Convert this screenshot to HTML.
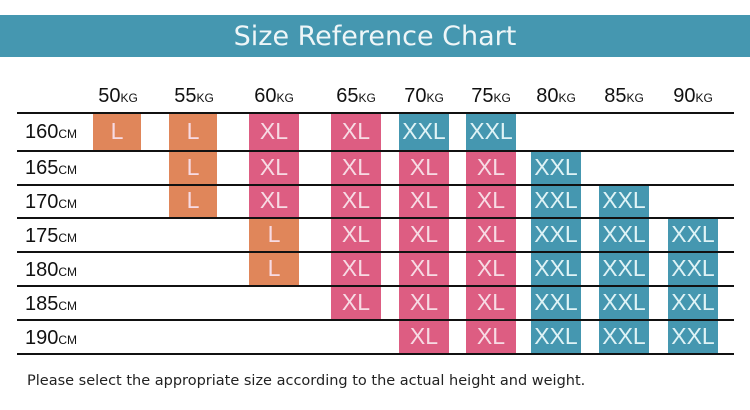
<!DOCTYPE html>
<html><head><meta charset="utf-8"><style>
body{margin:0;width:750px;height:410px;background:#fff;position:relative;overflow:hidden;font-family:"Liberation Sans",sans-serif}
.ban{position:absolute;left:0;top:15px;width:750px;height:42px;background:#4597b0;color:#eef6f8;font-size:27px;text-align:center;line-height:44px;font-family:"DejaVu Sans","Liberation Sans",sans-serif}
.h{position:absolute;top:85px;font-size:20px;color:#111;width:70px;text-align:center}
.h small,.r small{font-size:12px}
.r{position:absolute;left:25px;font-size:20px;color:#111}
.ln{position:absolute;left:17px;width:717px;height:1.5px;background:#111}
.b{position:absolute;width:50px;color:#f7dbe4;font-size:23px;text-align:center}
.o{background:#e0865a}.p{background:#dd5d82}.t{background:#4597b0;color:#dff3f6}
.foot{position:absolute;left:27px;top:373px;font-size:14.5px;color:#222;font-family:"DejaVu Sans",sans-serif;letter-spacing:0px}
</style></head><body>
<div class="ban">Size Reference Chart</div>
<div class="h" style="left:83px">50<small>KG</small></div>
<div class="h" style="left:159px">55<small>KG</small></div>
<div class="h" style="left:239px">60<small>KG</small></div>
<div class="h" style="left:321px">65<small>KG</small></div>
<div class="h" style="left:389px">70<small>KG</small></div>
<div class="h" style="left:456px">75<small>KG</small></div>
<div class="h" style="left:521px">80<small>KG</small></div>
<div class="h" style="left:589px">85<small>KG</small></div>
<div class="h" style="left:658px">90<small>KG</small></div>

<div class="b o" style="left:93px;top:113px;height:37px;line-height:37px;width:48px">L</div>
<div class="b o" style="left:169px;top:113px;height:37px;line-height:37px;width:48px">L</div>
<div class="b p" style="left:249px;top:113px;height:37px;line-height:37px">XL</div>
<div class="b p" style="left:331px;top:113px;height:37px;line-height:37px">XL</div>
<div class="b t" style="left:399px;top:113px;height:37px;line-height:37px">XXL</div>
<div class="b t" style="left:466px;top:113px;height:37px;line-height:37px">XXL</div>

<div class="b o" style="left:169px;top:150px;height:34px;line-height:34px;width:48px">L</div>
<div class="b p" style="left:249px;top:150px;height:34px;line-height:34px">XL</div>
<div class="b p" style="left:331px;top:150px;height:34px;line-height:34px">XL</div>
<div class="b p" style="left:399px;top:150px;height:34px;line-height:34px">XL</div>
<div class="b p" style="left:466px;top:150px;height:34px;line-height:34px">XL</div>
<div class="b t" style="left:531px;top:150px;height:34px;line-height:34px">XXL</div>

<div class="b o" style="left:169px;top:184px;height:33px;line-height:33px;width:48px">L</div>
<div class="b p" style="left:249px;top:184px;height:33px;line-height:33px">XL</div>
<div class="b p" style="left:331px;top:184px;height:33px;line-height:33px">XL</div>
<div class="b p" style="left:399px;top:184px;height:33px;line-height:33px">XL</div>
<div class="b p" style="left:466px;top:184px;height:33px;line-height:33px">XL</div>
<div class="b t" style="left:531px;top:184px;height:33px;line-height:33px">XXL</div>
<div class="b t" style="left:599px;top:184px;height:33px;line-height:33px">XXL</div>

<div class="b o" style="left:249px;top:217px;height:34px;line-height:34px">L</div>
<div class="b p" style="left:331px;top:217px;height:34px;line-height:34px">XL</div>
<div class="b p" style="left:399px;top:217px;height:34px;line-height:34px">XL</div>
<div class="b p" style="left:466px;top:217px;height:34px;line-height:34px">XL</div>
<div class="b t" style="left:531px;top:217px;height:34px;line-height:34px">XXL</div>
<div class="b t" style="left:599px;top:217px;height:34px;line-height:34px">XXL</div>
<div class="b t" style="left:668px;top:217px;height:34px;line-height:34px">XXL</div>

<div class="b o" style="left:249px;top:251px;height:34px;line-height:34px">L</div>
<div class="b p" style="left:331px;top:251px;height:34px;line-height:34px">XL</div>
<div class="b p" style="left:399px;top:251px;height:34px;line-height:34px">XL</div>
<div class="b p" style="left:466px;top:251px;height:34px;line-height:34px">XL</div>
<div class="b t" style="left:531px;top:251px;height:34px;line-height:34px">XXL</div>
<div class="b t" style="left:599px;top:251px;height:34px;line-height:34px">XXL</div>
<div class="b t" style="left:668px;top:251px;height:34px;line-height:34px">XXL</div>

<div class="b p" style="left:331px;top:285px;height:34px;line-height:34px">XL</div>
<div class="b p" style="left:399px;top:285px;height:34px;line-height:34px">XL</div>
<div class="b p" style="left:466px;top:285px;height:34px;line-height:34px">XL</div>
<div class="b t" style="left:531px;top:285px;height:34px;line-height:34px">XXL</div>
<div class="b t" style="left:599px;top:285px;height:34px;line-height:34px">XXL</div>
<div class="b t" style="left:668px;top:285px;height:34px;line-height:34px">XXL</div>

<div class="b p" style="left:399px;top:319px;height:34px;line-height:34px">XL</div>
<div class="b p" style="left:466px;top:319px;height:34px;line-height:34px">XL</div>
<div class="b t" style="left:531px;top:319px;height:34px;line-height:34px">XXL</div>
<div class="b t" style="left:599px;top:319px;height:34px;line-height:34px">XXL</div>
<div class="b t" style="left:668px;top:319px;height:34px;line-height:34px">XXL</div>

<div class="ln" style="top:112px"></div>
<div class="ln" style="top:150px"></div>
<div class="ln" style="top:184px"></div>
<div class="ln" style="top:217px"></div>
<div class="ln" style="top:251px"></div>
<div class="ln" style="top:285px"></div>
<div class="ln" style="top:319px"></div>
<div class="ln" style="top:353px"></div>

<div class="r" style="top:121px">160<small>CM</small></div>
<div class="r" style="top:157px">165<small>CM</small></div>
<div class="r" style="top:191px">170<small>CM</small></div>
<div class="r" style="top:225px">175<small>CM</small></div>
<div class="r" style="top:259px">180<small>CM</small></div>
<div class="r" style="top:293px">185<small>CM</small></div>
<div class="r" style="top:327px">190<small>CM</small></div>

<div class="foot">Please select the appropriate size according to the actual height and weight.</div>
</body></html>
